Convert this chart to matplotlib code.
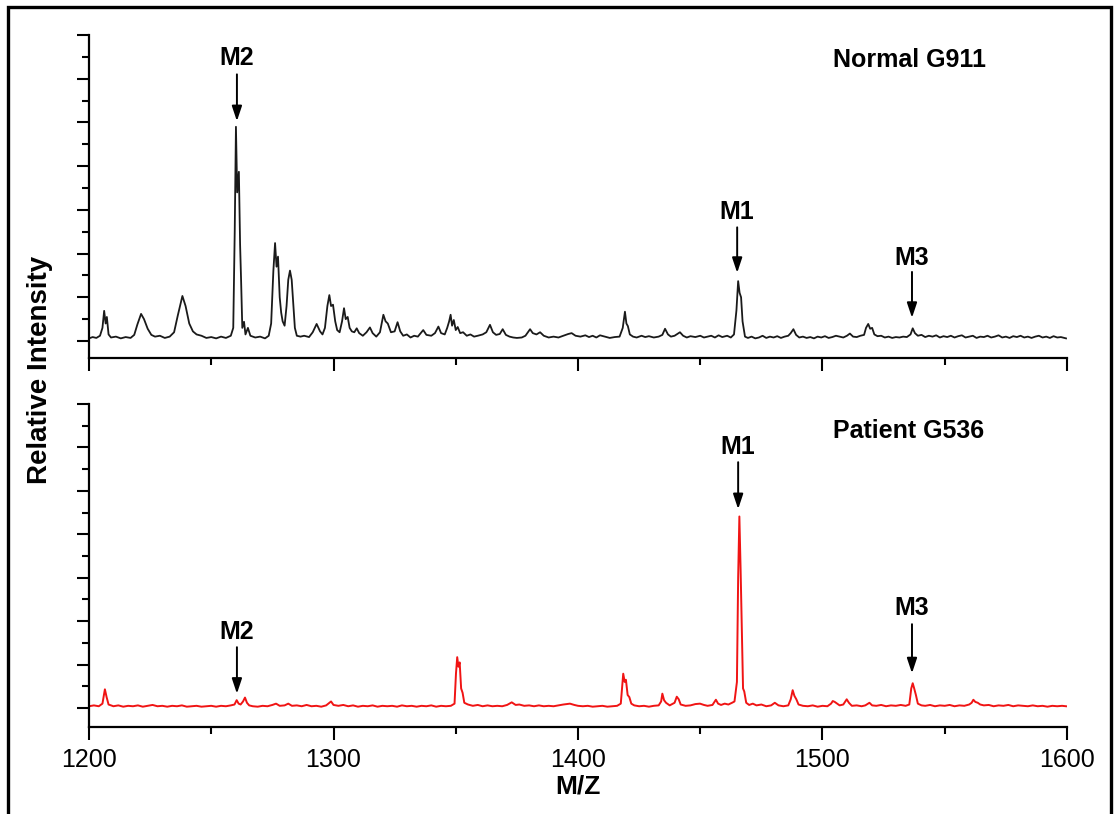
import matplotlib
matplotlib.use("Agg")
import matplotlib.pyplot as plt
from matplotlib.patches import Rectangle
from matplotlib.ticker import MultipleLocator

plt.rcParams['font.family'] = ['Liberation Sans', 'DejaVu Sans']

normal_mz = [
    1200.0, 1201.5, 1203.0, 1204.5, 1205.5, 1206.2, 1206.8, 1207.3, 1208.0, 1209.0,
    1211.0, 1213.0, 1215.0, 1217.0, 1218.5, 1219.8, 1221.3, 1222.5, 1224.0, 1225.5,
    1227.0, 1229.0, 1231.0, 1233.0, 1234.8, 1236.3, 1238.2, 1239.5, 1241.0, 1242.5,
    1244.0, 1246.0, 1248.0, 1250.0, 1252.0, 1254.0, 1256.0, 1258.0, 1259.0, 1259.6,
    1260.1, 1260.6, 1261.3, 1261.8, 1262.2, 1262.7, 1263.4, 1264.0, 1265.0, 1266.0,
    1268.0, 1270.0, 1272.0, 1273.5, 1274.5, 1275.4, 1276.1, 1276.7, 1277.3, 1278.0,
    1278.6, 1279.2, 1280.0, 1280.8, 1281.5, 1282.2, 1282.9, 1283.5, 1284.2, 1285.0,
    1286.5, 1288.0, 1290.0, 1291.5, 1293.1, 1294.5, 1295.5, 1296.5, 1297.5, 1298.3,
    1299.0, 1299.8, 1300.7, 1301.5, 1302.5, 1303.5, 1304.3, 1305.0, 1305.8, 1306.6,
    1307.5, 1308.5, 1309.5, 1310.5, 1312.0, 1313.5, 1314.9, 1316.0, 1317.5, 1319.0,
    1320.4, 1321.3, 1322.2, 1323.5, 1325.0, 1326.2, 1327.3, 1328.5, 1330.0, 1331.5,
    1333.0, 1334.5, 1336.7, 1338.0, 1340.0, 1341.5, 1342.9, 1344.0, 1345.5, 1346.5,
    1347.3, 1347.9, 1348.5, 1349.2, 1350.0, 1350.8, 1351.8, 1353.0, 1354.5, 1356.0,
    1357.5, 1359.0, 1361.0, 1362.5, 1364.0, 1365.2, 1366.5, 1368.0, 1369.2, 1370.5,
    1372.0, 1373.5, 1375.0, 1377.0, 1378.5, 1380.4, 1381.5, 1383.0, 1384.5, 1386.0,
    1388.0, 1390.0, 1392.0, 1394.0, 1396.0, 1397.4, 1399.0, 1401.0, 1403.0, 1404.5,
    1406.0, 1407.5, 1409.0, 1411.0, 1413.0, 1415.0, 1417.0, 1418.3, 1419.2, 1419.8,
    1420.4, 1421.2, 1422.5, 1424.0, 1426.0, 1427.5, 1429.0, 1431.0, 1433.0, 1434.5,
    1435.6, 1436.8, 1438.0, 1439.5, 1441.7, 1443.0, 1444.5, 1446.0, 1448.0, 1450.0,
    1451.5, 1453.0, 1454.5, 1456.0, 1457.5, 1459.0, 1461.0, 1462.5, 1463.8, 1464.8,
    1465.5, 1466.1, 1466.7, 1467.3, 1468.3, 1469.5, 1471.0, 1472.5, 1474.0, 1475.5,
    1477.0, 1478.5, 1480.0, 1481.5, 1483.0, 1484.5, 1486.0, 1487.0, 1488.1, 1489.2,
    1490.5, 1492.0, 1493.5, 1495.0, 1496.5, 1498.0, 1499.5, 1501.0, 1502.5, 1504.0,
    1505.5, 1507.0, 1508.5, 1510.0, 1511.2, 1512.5, 1514.0, 1515.5, 1517.0, 1517.8,
    1518.7, 1519.5, 1520.3, 1521.2, 1522.5, 1524.0, 1525.5, 1527.0, 1528.5, 1530.0,
    1531.5, 1533.0, 1534.5, 1536.0, 1536.9, 1537.8, 1539.0, 1540.5, 1542.0, 1543.5,
    1545.0, 1546.5, 1548.0, 1549.5, 1551.0, 1552.5, 1554.0, 1555.5, 1557.0, 1558.5,
    1560.0, 1561.5, 1563.0, 1564.5, 1566.0, 1567.5, 1569.0, 1570.5, 1572.0, 1573.5,
    1575.0, 1576.5, 1578.0, 1579.5, 1581.0, 1582.5, 1584.0, 1585.5, 1587.0, 1588.5,
    1590.0, 1591.5, 1593.0, 1594.5, 1596.0, 1597.5, 1599.6,
]
normal_int = [
    0.06, 0.09, 0.07, 0.12, 0.30, 0.69, 0.40, 0.55, 0.15, 0.08,
    0.10, 0.06, 0.09, 0.07, 0.14, 0.38, 0.62, 0.50, 0.28, 0.14,
    0.10, 0.12, 0.07, 0.10, 0.20, 0.58, 1.03, 0.80, 0.40, 0.22,
    0.15, 0.12, 0.07, 0.09, 0.06, 0.10, 0.07, 0.12, 0.30, 2.50,
    4.90, 3.40, 3.87, 2.20, 1.40, 0.30, 0.44, 0.15, 0.30, 0.12,
    0.08, 0.10, 0.06, 0.12, 0.40, 1.60, 2.24, 1.70, 1.93, 1.00,
    0.65, 0.45, 0.35, 0.80, 1.40, 1.61, 1.40, 0.90, 0.30, 0.12,
    0.10, 0.12, 0.09, 0.20, 0.39, 0.22, 0.15, 0.30, 0.80, 1.05,
    0.80, 0.83, 0.45, 0.25, 0.20, 0.45, 0.75, 0.50, 0.55, 0.30,
    0.22, 0.20, 0.29, 0.18, 0.12, 0.20, 0.31, 0.18, 0.10, 0.20,
    0.60, 0.45, 0.40, 0.20, 0.22, 0.43, 0.22, 0.12, 0.15, 0.08,
    0.12, 0.10, 0.25, 0.14, 0.12, 0.18, 0.33, 0.18, 0.15, 0.30,
    0.45, 0.60, 0.35, 0.48, 0.25, 0.32, 0.18, 0.20, 0.12, 0.15,
    0.10, 0.12, 0.15, 0.20, 0.37, 0.20, 0.14, 0.16, 0.27, 0.14,
    0.10, 0.08, 0.07, 0.08, 0.12, 0.27, 0.18, 0.15, 0.20, 0.12,
    0.08, 0.10, 0.08, 0.12, 0.16, 0.18, 0.12, 0.10, 0.13, 0.09,
    0.12, 0.08, 0.13, 0.10, 0.07, 0.09, 0.10, 0.30, 0.67, 0.40,
    0.34, 0.15, 0.10, 0.08, 0.12, 0.09, 0.11, 0.08, 0.10, 0.14,
    0.28, 0.15, 0.10, 0.12, 0.20, 0.12, 0.08, 0.11, 0.09, 0.12,
    0.08, 0.10, 0.12, 0.08, 0.13, 0.09, 0.12, 0.08, 0.15, 0.70,
    1.37, 1.10, 1.00, 0.45, 0.10, 0.07, 0.10, 0.06, 0.08, 0.12,
    0.07, 0.10, 0.08, 0.11, 0.07, 0.10, 0.12, 0.18, 0.27, 0.14,
    0.08, 0.10, 0.07, 0.09, 0.06, 0.10, 0.08, 0.11, 0.07, 0.09,
    0.12, 0.10, 0.08, 0.12, 0.17, 0.10, 0.09, 0.12, 0.14, 0.30,
    0.39, 0.28, 0.30, 0.15, 0.11, 0.12, 0.08, 0.10, 0.07, 0.09,
    0.08, 0.10, 0.09, 0.15, 0.29, 0.18, 0.12, 0.14, 0.09, 0.12,
    0.10, 0.13, 0.08, 0.11, 0.09, 0.12, 0.08, 0.11, 0.13, 0.08,
    0.10, 0.12, 0.07, 0.10, 0.09, 0.12, 0.08, 0.10, 0.13, 0.08,
    0.10, 0.07, 0.11, 0.09, 0.12, 0.08, 0.10, 0.07, 0.10, 0.12,
    0.08, 0.10, 0.07, 0.11, 0.08, 0.09, 0.06,
]

patient_mz = [
    1200.0, 1202.0, 1204.0, 1205.5, 1206.5, 1207.2, 1208.0, 1210.0, 1212.0, 1214.0,
    1216.0, 1218.0, 1220.0, 1222.0, 1224.0, 1226.0, 1228.0, 1230.0, 1232.0, 1234.0,
    1236.0, 1238.0, 1240.0, 1242.0, 1244.0, 1246.0, 1248.0, 1250.0, 1252.0, 1254.0,
    1256.0, 1258.0, 1259.5, 1260.4, 1261.2, 1262.0, 1263.0, 1263.8, 1264.6, 1265.5,
    1267.0, 1269.0, 1271.0, 1273.0, 1275.0, 1276.5, 1278.0, 1280.0, 1281.5, 1283.0,
    1285.0, 1287.0, 1289.0, 1291.0, 1293.0, 1295.0, 1297.0, 1299.0, 1300.0, 1302.0,
    1304.0, 1306.0, 1308.0, 1310.0, 1312.0, 1314.0, 1316.0, 1318.0, 1320.0, 1322.0,
    1324.0, 1326.0, 1328.0, 1330.0, 1332.0, 1334.0, 1336.0, 1338.0, 1340.0, 1342.0,
    1344.0, 1346.0, 1348.0, 1349.5, 1350.1, 1350.6, 1351.1, 1351.6, 1352.2, 1352.8,
    1353.5, 1355.0, 1357.0, 1359.0, 1361.0, 1363.0, 1365.0, 1367.0, 1369.0, 1371.0,
    1372.9, 1374.5, 1376.0, 1378.0, 1380.0, 1382.0, 1384.0, 1386.0, 1388.0, 1390.0,
    1392.0, 1394.0, 1396.7, 1398.5, 1400.0, 1402.0, 1404.0, 1406.0, 1408.0, 1410.0,
    1412.0, 1414.0, 1416.0, 1417.5, 1418.5, 1419.1, 1419.6, 1420.3, 1421.0, 1421.8,
    1423.0, 1425.0, 1427.0, 1429.0, 1431.0, 1433.0, 1434.0, 1434.5, 1435.2, 1436.0,
    1437.5, 1439.5, 1440.4, 1441.2, 1442.0, 1444.0, 1446.0, 1448.0, 1449.9, 1451.5,
    1453.0, 1455.0, 1456.4, 1457.3, 1458.5, 1460.0, 1461.5, 1463.0, 1464.0, 1465.0,
    1465.5, 1466.0, 1466.5, 1467.0, 1467.5, 1468.0, 1468.8, 1470.0, 1471.5, 1473.0,
    1475.0, 1477.0, 1479.0, 1480.5, 1482.0, 1484.0, 1486.0, 1487.0, 1487.8, 1488.5,
    1489.3, 1490.2, 1492.0, 1494.0, 1496.0, 1498.0, 1500.0, 1502.0, 1503.5, 1504.2,
    1505.0, 1506.0, 1507.0, 1508.5, 1509.9, 1510.8, 1512.0, 1514.0, 1516.0, 1517.5,
    1519.2, 1520.3, 1522.0, 1524.0, 1526.0, 1528.0, 1530.0, 1532.0, 1534.0, 1535.5,
    1536.3, 1536.9, 1537.5, 1538.2, 1539.0, 1540.5, 1542.0, 1544.0, 1546.0, 1548.0,
    1550.0, 1552.0, 1554.0, 1556.0, 1558.0, 1560.0, 1561.0, 1561.7, 1562.5, 1563.5,
    1564.5, 1566.0, 1568.0, 1570.0, 1572.0, 1574.0, 1576.0, 1578.0, 1580.0, 1582.0,
    1584.0, 1586.0, 1588.0, 1590.0, 1592.0, 1594.0, 1596.0, 1598.0, 1599.6,
]
patient_int = [
    0.04, 0.06, 0.04, 0.10, 0.43, 0.25, 0.08, 0.04, 0.06, 0.03,
    0.05, 0.04, 0.06, 0.03, 0.05, 0.07, 0.04, 0.05, 0.03, 0.05,
    0.04, 0.06, 0.03, 0.04, 0.05, 0.03, 0.04, 0.05, 0.03, 0.05,
    0.04, 0.06, 0.08, 0.18, 0.10, 0.08, 0.15, 0.24, 0.12, 0.06,
    0.04, 0.03, 0.05, 0.04, 0.07, 0.10, 0.05, 0.06, 0.10, 0.05,
    0.06, 0.04, 0.07, 0.04, 0.05, 0.03, 0.06, 0.15, 0.07, 0.05,
    0.07, 0.04, 0.06, 0.03, 0.05, 0.04, 0.06, 0.03, 0.05, 0.04,
    0.05, 0.03, 0.06, 0.04, 0.05, 0.03, 0.05, 0.04, 0.06, 0.03,
    0.05, 0.04, 0.05, 0.10, 0.80, 1.17, 0.95, 1.05, 0.45, 0.35,
    0.12, 0.08, 0.05, 0.07, 0.04, 0.06, 0.04, 0.05, 0.04, 0.07,
    0.13, 0.07, 0.08, 0.05, 0.06, 0.04, 0.06, 0.04, 0.05, 0.04,
    0.06, 0.08, 0.10, 0.07, 0.05, 0.04, 0.05, 0.03, 0.04, 0.05,
    0.03, 0.04, 0.05, 0.10, 0.79, 0.60, 0.65, 0.30, 0.25, 0.10,
    0.06, 0.04, 0.05, 0.03, 0.05, 0.06, 0.15, 0.33, 0.18, 0.12,
    0.06, 0.12, 0.26, 0.20, 0.08, 0.05, 0.06, 0.09, 0.10, 0.07,
    0.05, 0.07, 0.19, 0.10, 0.07, 0.10, 0.08, 0.12, 0.15, 0.60,
    3.00, 4.41, 3.20, 1.80, 0.45, 0.38, 0.12, 0.07, 0.10, 0.06,
    0.08, 0.04, 0.06, 0.12, 0.06, 0.04, 0.06, 0.20, 0.41, 0.28,
    0.20, 0.08, 0.05, 0.04, 0.06, 0.03, 0.05, 0.04, 0.10, 0.16,
    0.14, 0.10, 0.06, 0.08, 0.20, 0.12, 0.05, 0.06, 0.04, 0.06,
    0.12, 0.06, 0.05, 0.07, 0.04, 0.06, 0.05, 0.07, 0.05, 0.08,
    0.45, 0.57, 0.45, 0.30, 0.10, 0.06, 0.05, 0.07, 0.04, 0.06,
    0.05, 0.07, 0.04, 0.06, 0.05, 0.08, 0.12, 0.19, 0.14, 0.12,
    0.08, 0.06, 0.07, 0.04, 0.06, 0.05, 0.07, 0.04, 0.06, 0.05,
    0.04, 0.06, 0.04, 0.05, 0.03, 0.05, 0.04, 0.05, 0.04,
]

# peak markers: label, m/z, label height, arrow tail, arrow tip
normal_marks = [("M2", 1260.5, 6.48, 6.10, 5.03),
                ("M1", 1465.1, 2.95, 2.60, 1.56),
                ("M3", 1536.6, 1.90, 1.58, 0.53)]
patient_marks = [("M1", 1465.5, 6.01, 5.66, 4.58),
                 ("M2", 1260.5, 1.75, 1.40, 0.33),
                 ("M3", 1536.6, 2.30, 1.93, 0.80)]

W, H = 1117, 814
fig = plt.figure(figsize=(W / 100, H / 100), dpi=100)

ax1 = fig.add_axes([89 / W, 1 - 358 / H, (1067 - 89) / W, (358 - 35) / H])
ax2 = fig.add_axes([89 / W, 1 - 727 / H, (1067 - 89) / W, (727 - 404) / H])

ax1.plot(normal_mz, normal_int, color='#1a1a1a', lw=1.3)
ax2.plot(patient_mz, patient_int, color='#f01414', lw=1.4)

ax1.set_ylim(-17 / 43.7, 7)
ax2.set_ylim(-19 / 43.4, 7)

for ax in (ax1, ax2):
    ax.set_xlim(1200, 1600)
    for s in ('top', 'right'):
        ax.spines[s].set_visible(False)
    ax.spines['left'].set_bounds(ax.get_ylim()[0], 7)
    for s in ('left', 'bottom'):
        ax.spines[s].set_linewidth(1.6)
    ax.xaxis.set_major_locator(MultipleLocator(100))
    ax.xaxis.set_minor_locator(MultipleLocator(50))
    ax.yaxis.set_major_locator(MultipleLocator(1))
    ax.yaxis.set_minor_locator(MultipleLocator(0.5))
    ax.tick_params(which='major', direction='out', length=9, width=1.5)
    ax.tick_params(which='minor', direction='out', length=5, width=1.5)
    ax.tick_params(axis='y', which='both', labelleft=False)

ax1.tick_params(axis='x', which='both', labelbottom=False)
ax2.tick_params(axis='x', labelsize=18, pad=6)

def mark(ax, marks):
    for label, x, ty, tail, tip in marks:
        ax.text(x, ty, label, ha='center', va='center', fontsize=18, fontweight='bold')
        ax.annotate('', xy=(x, tip), xytext=(x, tail),
                    arrowprops=dict(arrowstyle='-|>,head_length=0.9,head_width=0.3',
                                    lw=1.4, color='k', shrinkA=0, shrinkB=0))

mark(ax1, normal_marks)
mark(ax2, patient_marks)

ax1.text(1504.3, 6.43, "Normal G911", ha='left', va='center', fontsize=18, fontweight='bold')
ax2.text(1504.3, 6.38, "Patient G536", ha='left', va='center', fontsize=18, fontweight='bold')

fig.text(40 / W, 1 - 370 / H, "Relative Intensity", rotation=90, ha='center', va='center',
         fontsize=20, fontweight='bold')
fig.text(578 / W, 1 - 786 / H, "M/Z", ha='center', va='center', fontsize=19, fontweight='bold')

# outer frame
fig.patches.append(Rectangle((7.5 / W, -0.02), (1110.5 - 7.5) / W, 1.02 - 7.5 / H,
                             transform=fig.transFigure, fill=False, lw=2.4, ec='k'))

fig.savefig("out.png", dpi=100)
